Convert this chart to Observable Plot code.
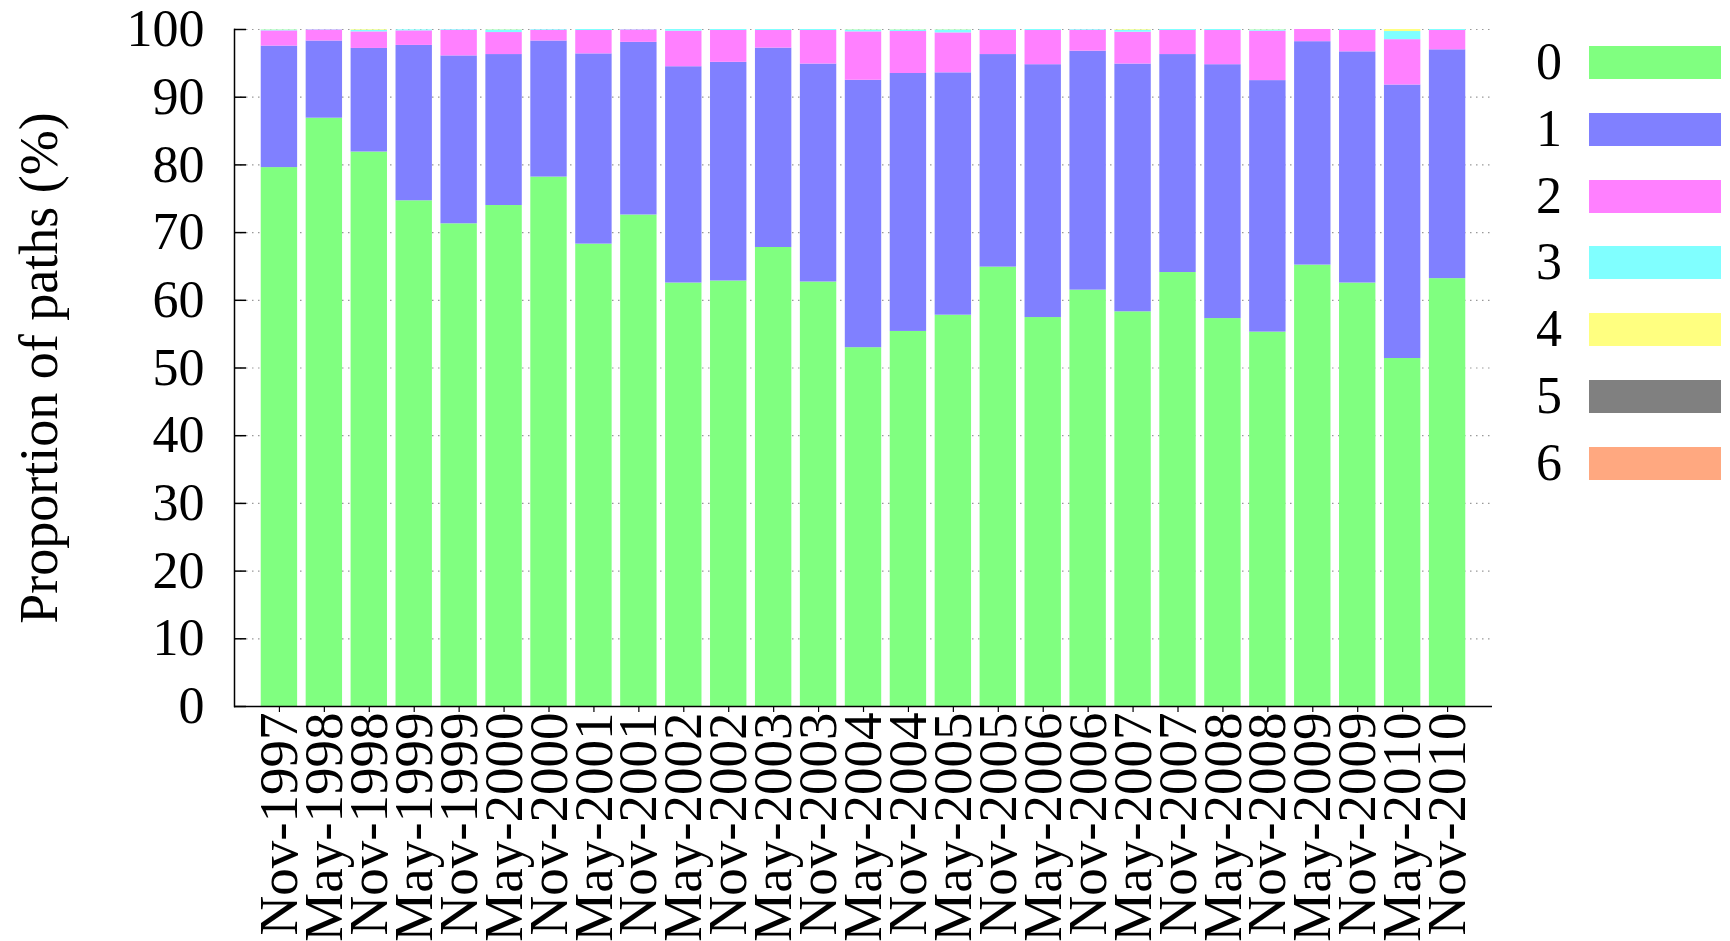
<!DOCTYPE html>
<html>
<head>
<meta charset="utf-8">
<script src="https://cdn.jsdelivr.net/npm/d3@7"></script>
<script src="https://cdn.jsdelivr.net/npm/@observablehq/plot@0.6"></script>
<style>
  html, body { margin: 0; padding: 0; background: #fff; }
  #wrap { position: relative; width: 1730px; height: 941px; font-family: "Liberation Serif", "Times New Roman", serif; }
  #legend { position: absolute; left: 0; top: 0; }
  .lg-label { position: absolute; width: 60px; text-align: right; font-size: 52px; line-height: 34px; color: #000; }
  .lg-swatch { position: absolute; width: 132px; height: 33px; box-sizing: border-box; }
</style>
</head>
<body>
<div id="wrap"><div id="chart"></div><div id="legend"></div></div>
<script>
const periods = ["Nov-1997","May-1998","Nov-1998","May-1999","Nov-1999","May-2000","Nov-2000",
  "May-2001","Nov-2001","May-2002","Nov-2002","May-2003","Nov-2003","May-2004","Nov-2004",
  "May-2005","Nov-2005","May-2006","Nov-2006","May-2007","Nov-2007","May-2008","Nov-2008",
  "May-2009","Nov-2009","May-2010","Nov-2010"];
const categories = ["0","1","2","3","4","5","6"];
const colors = ["#80ff80","#8080ff","#ff80ff","#80ffff","#ffff80","#808080","#ffa880"];

const s0 = [79.6,86.9,81.9,74.7,71.3,74.0,78.2,68.3,72.6,62.55,62.85,67.8,62.7,53.0,55.4,57.8,64.9,57.45,61.5,58.3,64.1,57.3,55.3,65.2,62.55,51.4,63.2];
const s1 = [17.95,11.4,15.3,22.95,24.8,22.3,20.1,28.1,25.5,31.95,32.3,29.45,32.2,39.5,38.1,35.8,31.4,37.35,35.3,36.6,32.2,37.5,37.15,33.0,34.15,40.4,33.8];
const s2 = [2.25,1.65,2.45,2.15,3.8,3.25,1.6,3.45,1.85,5.25,4.7,2.6,4.95,7.15,6.2,5.9,3.55,5.05,3.1,4.7,3.55,5.05,7.3,1.8,3.15,6.7,2.85];
const s3 = [0.15,0.05,0.25,0.15,0.1,0.4,0.1,0.15,0.05,0.25,0.15,0.15,0.15,0.3,0.25,0.45,0.15,0.15,0.1,0.3,0.15,0.15,0.2,0.0,0.15,1.2,0.15];
const s4 = [0.05,0.0,0.1,0.0,0.0,0.05,0.0,0.0,0.0,0.0,0.0,0.0,0.0,0.05,0.05,0.05,0.0,0.0,0.0,0.1,0.0,0.0,0.05,0.0,0.0,0.3,0.0];
const s5 = [0,0,0,0,0,0,0,0,0,0,0,0,0,0,0,0,0,0,0,0,0,0,0,0,0,0,0];
const s6 = [0,0,0,0,0,0,0,0,0,0,0,0,0,0,0,0,0,0,0,0,0,0,0,0,0,0,0];
const yTicks = [0,10,20,30,40,50,60,70,80,90,100];

const series = [s0,s1,s2,s3,s4,s5,s6];
const rows = [];
periods.forEach((p, i) => {
  series.forEach((s, k) => { if (s[i] > 0) rows.push({period: p, cat: categories[k], value: s[i]}); });
});

const W = 1730, H = 941, mL = 234, mR = 238, mT = 29, mB = 235;
const innerW = W - mL - mR;

const chart = Plot.plot({
  width: W, height: H,
  marginLeft: mL, marginRight: mR, marginTop: mT, marginBottom: mB,
  style: {fontFamily: "'Liberation Serif', 'Times New Roman', serif", fontSize: "52px", color: "#000", background: "#fff"},
  x: {domain: periods, paddingInner: 0.19, paddingOuter: 0.595, round: false, label: null, axis: null},
  y: {domain: [0, 100], label: null, axis: null},
  color: {domain: categories, range: colors},
  marks: [
    Plot.ruleY(yTicks.filter(d => d > 0), {stroke: "#999", strokeWidth: 1.2, strokeDasharray: "1.5,4.5"}),
    Plot.barY(rows, {x: "period", y: "value", fill: "cat", order: null}),
    Plot.tickY(yTicks, {y: d => d, stroke: "#000", strokeWidth: 1.5, insetRight: innerW - 12}),
    Plot.axisY({ticks: yTicks, tickSize: 0, tickPadding: 30, fontSize: 52, label: null, tickFormat: d => String(d)}),
    Plot.axisX({tickSize: 6, tickPadding: 0, tickRotate: -90, fontSize: 55, label: null, strokeWidth: 1.2}),
    Plot.ruleY([0], {stroke: "#000", strokeWidth: 1.5}),
    Plot.frame({anchor: "left", stroke: "#000", strokeWidth: 1.5}),
    Plot.text(["Proportion of paths (%)"], {frameAnchor: "left", textAnchor: "middle", dx: -195, rotate: -90, fontSize: 54, text: d => d})
  ]
});
document.getElementById("chart").appendChild(chart);

const legend = document.getElementById("legend");
categories.forEach((c, i) => {
  const top = 46 + i * 66.8;
  const lab = document.createElement("div");
  lab.className = "lg-label";
  lab.style.left = (1562 - 60) + "px";
  lab.style.top = (top - 1) + "px";
  lab.textContent = c;
  const sw = document.createElement("div");
  sw.className = "lg-swatch";
  sw.style.left = "1589px";
  sw.style.top = top + "px";
  sw.style.background = colors[i];
  legend.appendChild(lab);
  legend.appendChild(sw);
});
</script>
</body>
</html>
